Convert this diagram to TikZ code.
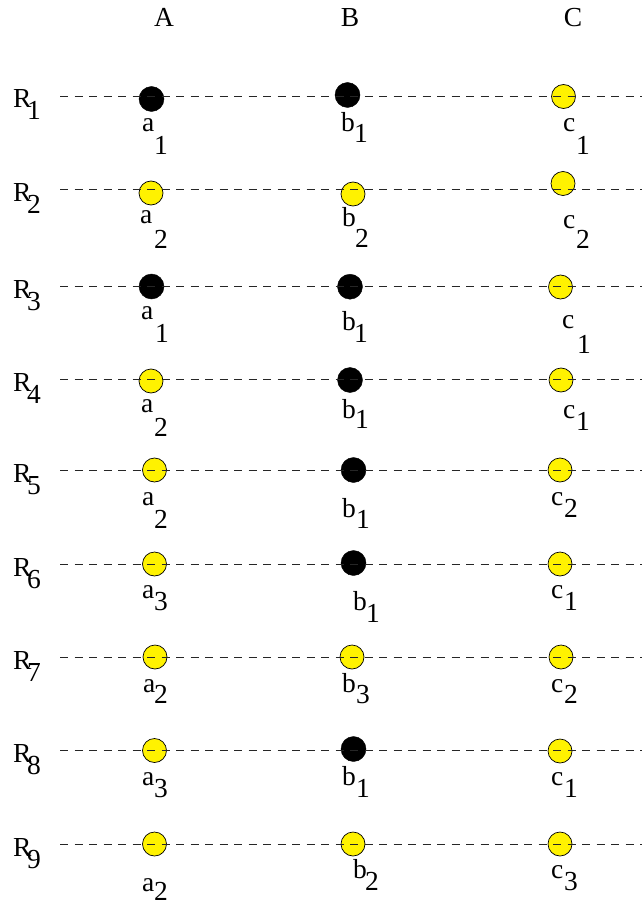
\documentclass[tikz,border=0pt]{standalone}
\usepackage{fontspec}
\setmainfont{Liberation Serif}
\begin{document}
\begin{tikzpicture}[x=1pt, y=-1pt,
  blk/.style={circle, draw=black, fill=black, minimum size=25pt, inner sep=0pt},
  ylw/.style={circle, draw=black, line width=0.7pt, fill=yellow, minimum size=24pt, inner sep=0pt},
  rowline/.style={line width=0.9pt, black!85, dash pattern=on 8pt off 6.5pt},
  lab/.style={inner sep=0pt, anchor=base west, font=\fontsize{27.5}{28}\selectfont},
  hd/.style={inner sep=0pt, anchor=base, font=\fontsize{27.5}{28}\selectfont}]
  \useasboundingbox (0,0) rectangle (642,904);

  % column heads
  \node[hd] (A) at (164,27) {A};
  \node[hd] (B) at (350,27) {B};
  \node[hd] (C) at (573,27) {C};

  % points, row by row (black = set, yellow = free)
  \node[blk] (p1a) at (151.5,99)   {};
  \node[blk] (p1b) at (347.5,95)   {};
  \node[ylw] (p1c) at (563.5,96.5) {};
  \node[ylw] (p2a) at (151,193)    {};
  \node[ylw] (p2b) at (353,194)    {};
  \node[ylw] (p2c) at (563,183.5)  {};
  \node[blk] (p3a) at (151.5,286.5) {};
  \node[blk] (p3b) at (350,286.7)  {};
  \node[ylw] (p3c) at (560.5,287)  {};
  \node[ylw] (p4a) at (151,381)    {};
  \node[blk] (p4b) at (350,380)    {};
  \node[ylw] (p4c) at (561,380)    {};
  \node[ylw] (p5a) at (154.5,470)  {};
  \node[blk] (p5b) at (353.5,470)  {};
  \node[ylw] (p5c) at (560,470)    {};
  \node[ylw] (p6a) at (154.5,564)  {};
  \node[blk] (p6b) at (353.5,563)  {};
  \node[ylw] (p6c) at (560,564)    {};
  \node[ylw] (p7a) at (155,657)    {};
  \node[ylw] (p7b) at (352,657)    {};
  \node[ylw] (p7c) at (561,657)    {};
  \node[ylw] (p8a) at (154.5,750.5) {};
  \node[blk] (p8b) at (353.5,749)  {};
  \node[ylw] (p8c) at (560,751)    {};
  \node[ylw] (p9a) at (154.5,844)  {};
  \node[ylw] (p9b) at (353,844)    {};
  \node[ylw] (p9c) at (560,844)    {};

  % dashed rows and their names R_i (drawn over the points)
  \foreach \y [count=\i] in {96,189.5,286.7,379.5,470,564,657,750.7,844} {
    \coordinate (s\i) at (60,\y);
    \coordinate (e\i) at (642,\y);
    \draw[rowline] (s\i) -- (e\i);
    \node[lab] (R\i) at (13,\y+12) {R};
    \node[lab] (Ri\i) at (27,\y+24) {\i};
  }

  % value labels: letter, then its index set apart
  \node[lab] (l1a) at (142,132) {a};  \node[lab] (i1a) at (154,155) {1};
  \node[lab] (l1b) at (341,132) {b};  \node[lab] (i1b) at (354,143) {1};
  \node[lab] (l1c) at (563,132) {c};  \node[lab] (i1c) at (576,155) {1};
  \node[lab] (l2a) at (140,223) {a};  \node[lab] (i2a) at (154,248) {2};
  \node[lab] (l2b) at (342,226) {b};  \node[lab] (i2b) at (355,247) {2};
  \node[lab] (l2c) at (563,228) {c};  \node[lab] (i2c) at (576,248) {2};
  \node[lab] (l3a) at (141,319) {a};  \node[lab] (i3a) at (155,342) {1};
  \node[lab] (l3b) at (342,330) {b};  \node[lab] (i3b) at (354,342) {1};
  \node[lab] (l3c) at (562,328) {c};  \node[lab] (i3c) at (577,353) {1};
  \node[lab] (l4a) at (141,412) {a};  \node[lab] (i4a) at (154,436) {2};
  \node[lab] (l4b) at (342,418) {b};  \node[lab] (i4b) at (355,428) {1};
  \node[lab] (l4c) at (563,418) {c};  \node[lab] (i4c) at (576,430) {1};
  \node[lab] (l5a) at (142,505) {a};  \node[lab] (i5a) at (154,528) {2};
  \node[lab] (l5b) at (342,517) {b};  \node[lab] (i5b) at (356,528) {1};
  \node[lab] (l5c) at (551,505) {c};  \node[lab] (i5c) at (564,517) {2};
  \node[lab] (l6a) at (142,598) {a};  \node[lab] (i6a) at (154,610) {3};
  \node[lab] (l6b) at (353,610) {b};  \node[lab] (i6b) at (366,622) {1};
  \node[lab] (l6c) at (551,598) {c};  \node[lab] (i6c) at (564,610) {1};
  \node[lab] (l7a) at (143,692) {a};  \node[lab] (i7a) at (154,703) {2};
  \node[lab] (l7b) at (342,692) {b};  \node[lab] (i7b) at (356,703) {3};
  \node[lab] (l7c) at (551,692) {c};  \node[lab] (i7c) at (564,703) {2};
  \node[lab] (l8a) at (142,785) {a};  \node[lab] (i8a) at (154,797) {3};
  \node[lab] (l8b) at (342,785) {b};  \node[lab] (i8b) at (356,797) {1};
  \node[lab] (l8c) at (551,785) {c};  \node[lab] (i8c) at (564,797) {1};
  \node[lab] (l9a) at (142,891) {a};  \node[lab] (i9a) at (154,900) {2};
  \node[lab] (l9b) at (353,878) {b};  \node[lab] (i9b) at (365,890) {2};
  \node[lab] (l9c) at (551,878) {c};  \node[lab] (i9c) at (564,890) {3};
\end{tikzpicture}
\end{document}
